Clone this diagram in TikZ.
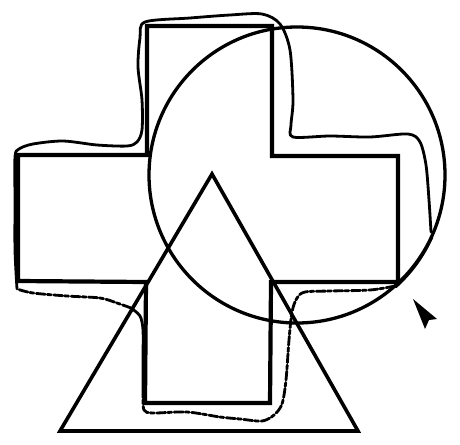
\documentclass[tikz,border=0pt]{standalone}
\begin{document}
\begin{tikzpicture}[x=1pt,y=-1pt,
  crossline/.style={line width=4.2pt, line join=miter},
  circleline/.style={line width=3.3pt},
  triline/.style={line width=3.6pt, line join=miter},
  trace/.style={line width=2.8pt, line cap=round, line join=round},
  brokentrace/.style={trace, dash pattern=on 9pt off 2.5pt on 4pt off 2pt}]
\useasboundingbox (0,0) rectangle (460,444);
% cross
\draw[crossline] (147,26) -- (272,26) -- (272,156) -- (398,156) -- (398,282) -- (271,282) -- (270,403) -- (145,403) -- (146,282) -- (18,281) -- (18,155) -- (147,155) -- cycle;
% circle
\draw[circleline] (297,175) circle (148);
% triangle
\draw[triline] (212,174) -- (358,431) -- (60,431) -- cycle;
% hand-drawn trace (solid part)
\draw[trace] plot[smooth, tension=0.5] coordinates {(17,289) (15,250) (15,200) (15,157) (19,149) (33,144) (63,141) (97,145) (127,146) (137,142) (142,130) (142,100) (138,67) (140,38) (145,22) (190,18) (230,15) (262,14) (280,24) (290,50) (293,100) (291,125) (293,137) (330,136) (370,137) (408,134) (420,142) (426,165) (429,200) (431,232)};
\draw[trace] (432,237) arc[start angle=24, end angle=48, radius=148];
% broken parts
\draw[brokentrace] plot[smooth, tension=0.5] coordinates {(395,286) (370,290) (330,291) (305,292) (297,298) (292,312) (289,340) (286,380) (282,404) (274,415) (262,421) (240,419) (220,417) (187,412) (153,413) (144,410) (143,395)};
\draw[trace] plot[smooth, tension=0.5] coordinates {(143,395) (143,360) (143,330) (140,316) (131,308)};
\draw[brokentrace] plot[smooth, tension=0.5] coordinates {(131,308) (117,303) (100,298) (67,296) (33,293) (17,289)};
% arrowhead
\coordinate (tip) at (413,299);
\fill (tip) -- (437,319) -- (429,320) -- (425,329) -- cycle;
\end{tikzpicture}
\end{document}
